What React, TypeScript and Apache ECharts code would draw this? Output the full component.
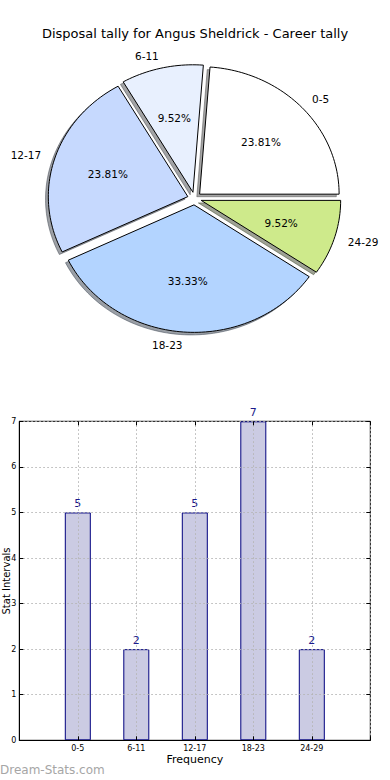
import React, { useEffect, useRef } from 'react';
import * as echarts from 'echarts';

const titleText = 'Disposal tally for Angus Sheldrick - Career tally';
const categories = ['0-5', '6-11', '12-17', '18-23', '24-29'];
const counts = [5, 2, 5, 7, 2];
const sliceColors = ['#ffffff', '#e8f0fe', '#c6d9fe', '#b3d4ff', '#ceea8b'];
const xAxisName = 'Frequency';
const yAxisName = 'Stat Intervals';
const watermark = 'Dream-Stats.com';

const FONT = 'DejaVu Sans';
const EXPLODE = 0.05;
const SHADOW_OFF = -0.02;
const total = counts.reduce((a, b) => a + b, 0);
const starts: number[] = [];
{
  let acc = 0;
  counts.forEach((v) => {
    starts.push((acc / total) * Math.PI * 2);
    acc += v;
  });
}

function shade(hex: string): string {
  const r = parseInt(hex.slice(1, 3), 16);
  const g = parseInt(hex.slice(3, 5), 16);
  const b = parseInt(hex.slice(5, 7), 16);
  return `rgba(${Math.round(r * 0.3)},${Math.round(g * 0.3)},${Math.round(b * 0.3)},0.5)`;
}

function wedgeGeom(api: any, i: number, dx: number, dy: number) {
  const a0 = starts[i];
  const a1 = a0 + (counts[i] / total) * Math.PI * 2;
  const m = (a0 + a1) / 2;
  const ox = EXPLODE * Math.cos(m) + dx;
  const oy = EXPLODE * Math.sin(m) + dy;
  const pts: number[][] = [api.coord([ox, oy])];
  const n = Math.max(10, Math.ceil(((a1 - a0) / (Math.PI * 2)) * 240));
  for (let k = 0; k <= n; k++) {
    const a = a0 + ((a1 - a0) * k) / n;
    pts.push(api.coord([ox + Math.cos(a), oy + Math.sin(a)]));
  }
  return { pts, m, ox, oy };
}

const gridLine = { show: true, lineStyle: { color: '#b4b4b4', type: [1.5, 2.5], width: 1 } };
const innerTick = { show: true, inside: true, length: 4, lineStyle: { color: '#000' } };

export default function App() {
  const ref = useRef<HTMLDivElement>(null);
  useEffect(() => {
    if (!ref.current) return;
    const chart = echarts.init(ref.current, undefined, { renderer: 'svg' });
    const pieData = counts.map((v, i) => [i, v]);
    const option: any = {
      animation: false,
      backgroundColor: '#ffffff',
      textStyle: { fontFamily: FONT },
      title: {
        text: titleText,
        left: 'center',
        top: 22,
        textStyle: { fontSize: 13, fontWeight: 'normal', color: '#000', fontFamily: FONT },
      },
      graphic: [
        {
          type: 'text',
          left: 0,
          top: 764,
          style: { text: watermark, fill: '#a6a6a6', fontSize: 12, fontFamily: FONT },
        },
        {
          type: 'text',
          x: 6.5,
          y: 581,
          rotation: Math.PI / 2,
          style: {
            text: yAxisName,
            fill: '#000',
            fontSize: 10,
            fontFamily: FONT,
            align: 'center',
            verticalAlign: 'middle',
          },
        },
      ],
      grid: [
        { left: 13.15, top: 32.75, width: 362.7, height: 331.5, show: false, outerBoundsMode: 'none', containLabel: false },
        {
          left: 19.3,
          top: 421.3,
          width: 351,
          height: 319,
          show: true,
          borderColor: '#000',
          borderWidth: 1,
          backgroundColor: 'transparent',
          outerBoundsMode: 'none',
          containLabel: false,
        },
      ],
      xAxis: [
        { gridIndex: 0, type: 'value', min: -1.3, max: 1.3, show: false },
        {
          gridIndex: 1,
          type: 'value',
          min: -1,
          max: 5,
          interval: 1,
          position: 'bottom',
          z: 5,
          name: xAxisName,
          nameLocation: 'middle',
          nameGap: 14,
          nameTextStyle: { fontSize: 11, color: '#000', fontFamily: FONT },
          axisLine: { show: true, onZero: false, lineStyle: { color: '#000', width: 1 } },
          axisTick: innerTick,
          axisLabel: {
            fontSize: 8,
            color: '#000',
            margin: 4,
            fontFamily: FONT,
            formatter: (v: number) => categories[v] ?? '',
          },
          splitLine: gridLine,
        },
        {
          gridIndex: 1,
          type: 'value',
          min: -1,
          max: 5,
          interval: 1,
          position: 'top',
          z: 5,
          axisLine: { show: false, onZero: false },
          axisTick: innerTick,
          axisLabel: { show: false },
          splitLine: { show: false },
        },
      ],
      yAxis: [
        { gridIndex: 0, type: 'value', min: -1.3, max: 1.3, show: false },
        {
          gridIndex: 1,
          type: 'value',
          min: 0,
          max: 7,
          interval: 1,
          position: 'left',
          z: 5,
          axisLine: { show: true, onZero: false, lineStyle: { color: '#000', width: 1 } },
          axisTick: innerTick,
          axisLabel: { fontSize: 8, color: '#000', margin: 3, fontFamily: FONT },
          splitLine: gridLine,
        },
        {
          gridIndex: 1,
          type: 'value',
          min: 0,
          max: 7,
          interval: 1,
          position: 'right',
          z: 5,
          axisLine: { show: false, onZero: false },
          axisTick: innerTick,
          axisLabel: { show: false },
          splitLine: { show: false },
        },
      ],
      series: [
        {
          type: 'custom',
          name: 'shadow',
          xAxisIndex: 0,
          yAxisIndex: 0,
          z: 1,
          silent: true,
          data: pieData,
          renderItem: (params: any, api: any) => {
            const i = params.dataIndex;
            const g = wedgeGeom(api, i, SHADOW_OFF, SHADOW_OFF);
            const c = shade(sliceColors[i]);
            return {
              type: 'polygon',
              shape: { points: g.pts },
              style: { fill: c, stroke: c, lineWidth: 1 },
            };
          },
        },
        {
          type: 'custom',
          name: 'wedges',
          xAxisIndex: 0,
          yAxisIndex: 0,
          z: 2,
          silent: true,
          data: pieData,
          renderItem: (params: any, api: any) => {
            const i = params.dataIndex;
            const g = wedgeGeom(api, i, 0, 0);
            const lab = api.coord([g.ox + 1.1 * Math.cos(g.m), g.oy + 1.1 * Math.sin(g.m)]);
            const pct = api.coord([g.ox + 0.6 * Math.cos(g.m), g.oy + 0.6 * Math.sin(g.m)]);
            const pctText = ((counts[i] / total) * 100).toFixed(2) + '%';
            return {
              type: 'group',
              children: [
                {
                  type: 'polygon',
                  shape: { points: g.pts },
                  style: { fill: sliceColors[i], stroke: '#000', lineWidth: 1, lineJoin: 'miter' },
                },
                {
                  type: 'text',
                  x: pct[0],
                  y: pct[1],
                  style: {
                    text: pctText,
                    fill: '#000',
                    fontSize: 10.5,
                    fontFamily: FONT,
                    align: 'center',
                    verticalAlign: 'middle',
                  },
                },
                {
                  type: 'text',
                  x: lab[0],
                  y: lab[1],
                  style: {
                    text: categories[i],
                    fill: '#000',
                    fontSize: 10.5,
                    fontFamily: FONT,
                    align: Math.cos(g.m) > 0 ? 'left' : 'right',
                    verticalAlign: 'middle',
                  },
                },
              ],
            };
          },
        },
        {
          type: 'bar',
          name: 'counts',
          xAxisIndex: 1,
          yAxisIndex: 1,
          z: 2,
          barWidth: 26,
          data: counts.map((v, i) => [i, v]),
          itemStyle: { color: '#cbcbe3', borderColor: '#00007f', borderWidth: 1 },
          label: {
            show: true,
            position: 'top',
            distance: 3,
            color: '#1a1a8c',
            fontSize: 11,
            fontFamily: FONT,
            formatter: (p: any) => String(p.value[1]),
          },
        },
      ],
    };
    chart.setOption(option);
    return () => chart.dispose();
  }, []);
  return (
    <div
      ref={ref}
      style={{ position: 'absolute', left: 0, top: 0, width: 390, height: 780, background: '#fff' }}
    />
  );
}
